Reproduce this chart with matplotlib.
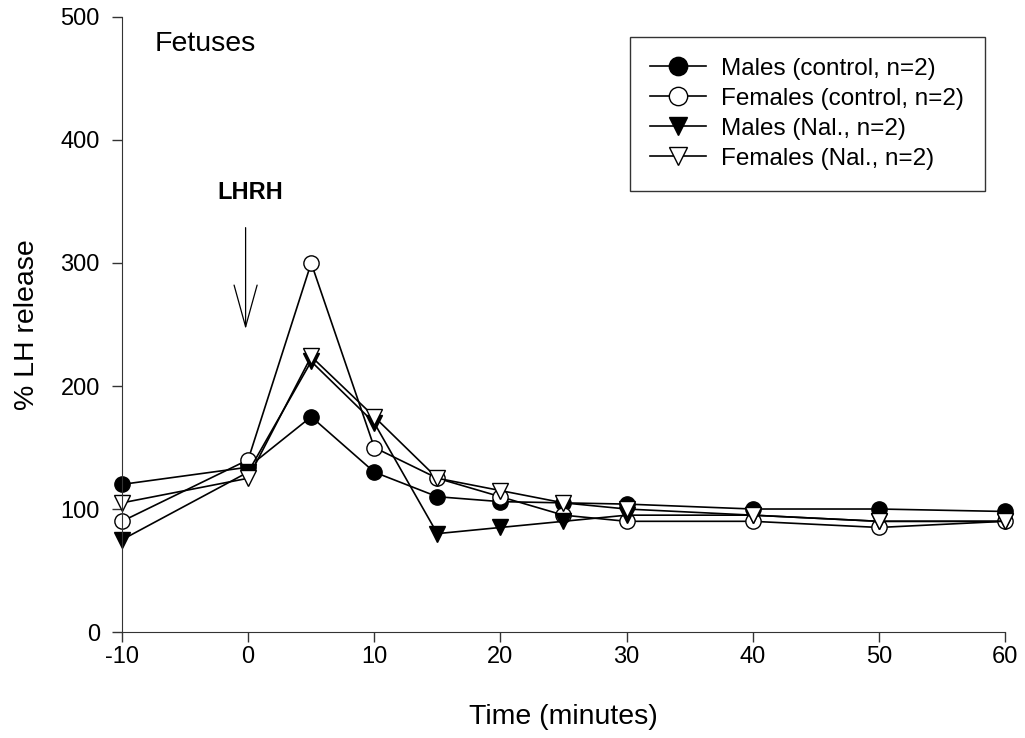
import matplotlib
matplotlib.use('Agg')
import matplotlib.pyplot as plt

plt.rcParams['font.family'] = ['Liberation Sans', 'DejaVu Sans']
plt.rcParams['axes.unicode_minus'] = False

# Data
time_min = [-10, 0, 5, 10, 15, 20, 25, 30, 40, 50, 60]
males_control = [120, 134, 175, 130, 110, 106, 105, 104, 100, 100, 98]
females_control = [90, 140, 300, 150, 125, 110, 95, 90, 90, 85, 90]
males_nal = [75, 130, 220, 170, 80, 85, 90, 95, 95, 90, 90]
females_nal = [105, 125, 224, 175, 125, 115, 105, 100, 95, 90, 90]

series = [
    ('Males (control, n=2)', males_control, 'o', 'black'),
    ('Females (control, n=2)', females_control, 'o', 'white'),
    ('Males (Nal., n=2)', males_nal, 'v', 'black'),
    ('Females (Nal., n=2)', females_nal, 'v', 'white'),
]

fig = plt.figure(figsize=(10.25, 7.38), dpi=100)
ax = fig.add_axes([0.119, 0.1436, 0.8615, 0.8334])

for label, vals, mk, fc in series:
    ax.plot(time_min, vals, color='black', linewidth=1.2, marker=mk,
            markersize=11, markerfacecolor=fc, markeredgecolor='black',
            markeredgewidth=1.0, label=label, clip_on=False)

ax.set_xlim(-10, 60)
ax.set_ylim(0, 500)
ax.set_xticks([-10, 0, 10, 20, 30, 40, 50, 60])
ax.set_yticks([0, 100, 200, 300, 400, 500])

ax.spines['top'].set_visible(False)
ax.spines['right'].set_visible(False)
for s in ('left', 'bottom'):
    ax.spines[s].set_color('#333333')
ax.tick_params(axis='both', direction='out', length=7, width=1.0,
               color='#333333', labelsize=17)
ax.tick_params(axis='x', pad=3)
ax.tick_params(axis='y', pad=9)

ax.set_xlabel('Time (minutes)', fontsize=20.5, labelpad=26)
ax.set_ylabel('% LH release', fontsize=20.5, labelpad=15)

# Annotations
ax.text(-7.38, 478, 'Fetuses', fontsize=20.5, ha='left', va='center')
ax.text(0.15, 357, 'LHRH', fontsize=17, fontweight='bold', ha='center', va='center')
ax.annotate('', xy=(-0.2, 244), xytext=(-0.2, 331),
            arrowprops=dict(arrowstyle='->,head_length=3.0,head_width=0.83',
                            color='black', lw=0.9))

leg = ax.legend(loc='upper right', bbox_to_anchor=(0.977, 0.9675), fontsize=17.5,
                frameon=True, fancybox=False, edgecolor='black',
                handlelength=2.3, markerscale=1.2, borderpad=0.86,
                borderaxespad=0.0, labelspacing=0.33, handletextpad=0.6)
leg.get_frame().set_linewidth(1.0)

fig.savefig('out.png', dpi=100)
plt.close(fig)
